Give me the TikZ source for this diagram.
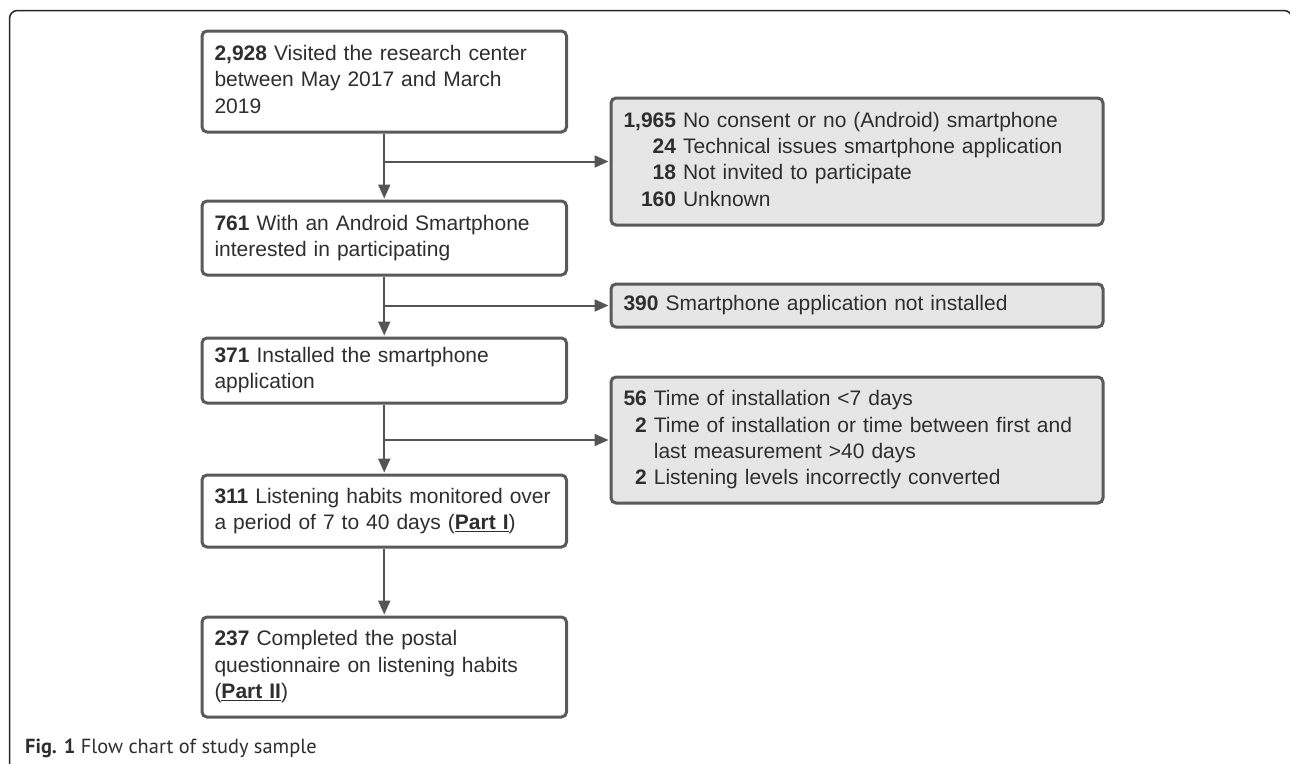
\documentclass[tikz,border=0pt]{standalone}
\usepackage{fontspec}
\setmainfont{Liberation Sans}
\newfontfamily\capfont{PT Sans}
\usetikzlibrary{arrows.meta}
\definecolor{boxline}{HTML}{5A5A5A}
\definecolor{sidefill}{HTML}{E6E6E6}
\definecolor{txt}{HTML}{2E2E2E}
\definecolor{arrcol}{HTML}{555555}
\newcommand\boxlines[1]{\begin{tabular}{@{}l@{}}#1\end{tabular}}
\newcommand\sidelines[1]{\begin{tabular}{@{}r@{\ }l@{}}#1\end{tabular}}
\begin{document}
\begin{tikzpicture}[x=1pt,y=-1pt,
  basebox/.style={draw=boxline, line width=3pt, rounded corners=5pt, anchor=north west,
    inner xsep=12.5pt, inner ysep=0pt, align=left, text=txt,
    font=\fontsize{21}{26.3}\selectfont},
  mainbox/.style={basebox, fill=white, text width=339.5pt},
  sidebox/.style={basebox, fill=sidefill, text width=467pt},
  arrline/.style={draw=arrcol, line width=2pt, -{Triangle[length=14pt,width=12pt]}, shorten >=1pt},
  plainline/.style={draw=arrcol, line width=2pt}
]
\useasboundingbox (0,0) rectangle (1290,763);
\fill[white] (0,0) rectangle (1290,763);
\begin{scope}
\clip (0,0) rectangle (1290,763);
\draw[line width=1.5pt, draw=black!85, rounded corners=8pt] (9.5,800) -- (9.5,10.5) -- (1292,10.5) -- (1292,800);
\end{scope}

% main column
\node[mainbox, minimum height=101pt] (b1) at (200.5,29.5)
  {\boxlines{\textbf{2,928} Visited the research center\\between May 2017 and March\\2019}};
\node[mainbox, minimum height=74pt] (b2) at (200.5,199.5)
  {\boxlines{\textbf{761} With an Android Smartphone\\interested in participating}};
\node[mainbox, minimum height=65pt] (b3) at (200.5,336.5)
  {\boxlines{\textbf{371} Installed the smartphone\\application}};
\node[mainbox, minimum height=72pt] (b4) at (200.5,473.5)
  {\boxlines{\textbf{311} Listening habits monitored over\\a period of 7 to 40 days (\underline{\textbf{Part I}})}};
\node[mainbox, minimum height=100pt] (b5) at (200.5,615.5)
  {\boxlines{\textbf{237} Completed the postal\\questionnaire on listening habits\\(\underline{\textbf{Part II}})}};

% side boxes
\node[sidebox, minimum height=127pt] (sA) at (609.5,96.5)
  {\sidelines{\textbf{1,965} & No consent or no (Android) smartphone\\
   \textbf{24} & Technical issues smartphone application\\
   \textbf{18} & Not invited to participate\\
   \textbf{160} & Unknown}};
\node[sidebox, minimum height=43pt] (sB) at (609.5,282.5)
  {\sidelines{\textbf{390} & Smartphone application not installed}};
\node[sidebox, minimum height=126pt] (sC) at (609.5,375.5)
  {\sidelines{\textbf{56} & Time of installation {<}7 days\\
   \textbf{2} & Time of installation or time between first and\\
    & last measurement {>}40 days\\
   \textbf{2} & Listening levels incorrectly converted}};

% connectors
\draw[arrline] (b1.south) -- (b2.north);
\draw[arrline] (b2.south) -- (b3.north);
\draw[arrline] (b3.south) -- (b4.north);
\draw[arrline] (b4.south) -- (b5.north);
\draw[arrline] (b1.south |- sA.west) -- (sA.west);
\draw[arrline] (b2.south |- sB.west) -- (sB.west);
\draw[arrline] (b3.south |- sC.west) -- (sC.west);

% caption
\node[anchor=base west, inner sep=0pt, text=txt, font=\capfont\fontsize{20.4}{24}\selectfont] (cap) at (25,753)
  {\textbf{Fig. 1} Flow chart of study sample};
\end{tikzpicture}
\end{document}
